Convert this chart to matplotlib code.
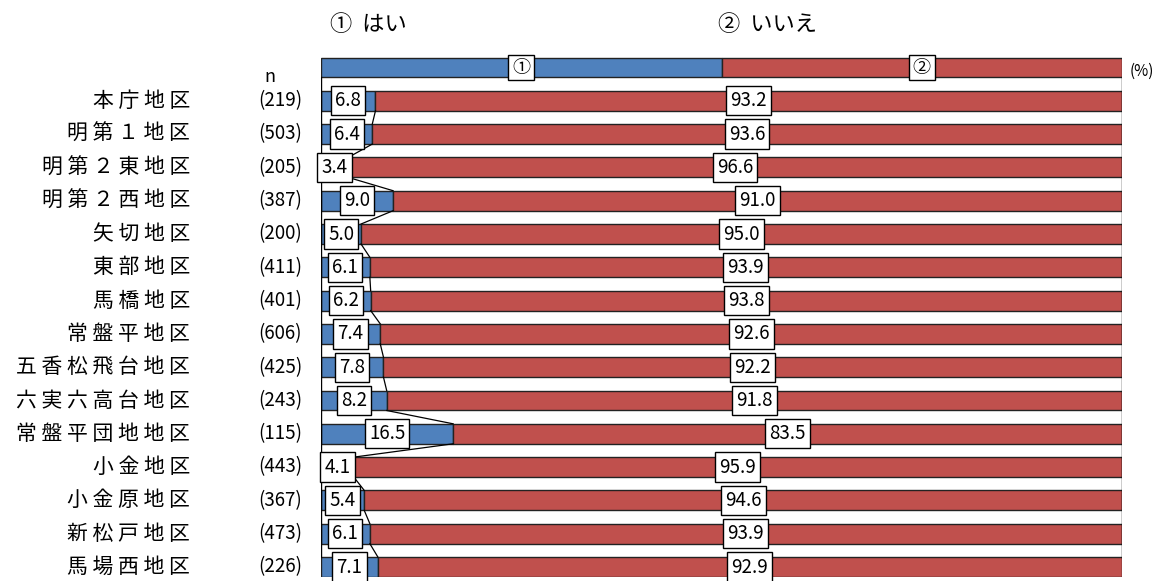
import matplotlib.pyplot as plt

plt.rcParams['font.family'] = ['Noto Sans CJK JP', 'DejaVu Sans']

areas = ["本庁地区", "明第１地区", "明第２東地区", "明第２西地区", "矢切地区",
         "東部地区", "馬橋地区", "常盤平地区", "五香松飛台地区", "六実六高台地区",
         "常盤平団地地区", "小金地区", "小金原地区", "新松戸地区", "馬場西地区"]
n = [219, 503, 205, 387, 200, 411, 401, 606, 425, 243, 115, 443, 367, 473, 226]
yes = [6.8, 6.4, 3.4, 9.0, 5.0, 6.1, 6.2, 7.4, 7.8, 8.2, 16.5, 4.1, 5.4, 6.1, 7.1]
no = [93.2, 93.6, 96.6, 91.0, 95.0, 93.9, 93.8, 92.6, 92.2, 91.8, 83.5, 95.9, 94.6, 93.9, 92.9]
legend_labels = ["①  はい", "②  いいえ"]
legend_marks = ["①", "②"]

blue = "#4F81BD"
red = "#C0504D"
h = 0.6

fig = plt.figure(figsize=(11.62, 5.81), dpi=100)
ax = fig.add_axes([321 / 1162, 1 - 577 / 581, 801 / 1162, (577 - 50.85) / 581])
ax.set_xlim(0, 100)
ax.set_ylim(15.3, -0.5)
ax.axis("off")

box = dict(boxstyle="square,pad=0.22", fc="white", ec="black", lw=1)

# top legend bar
ax.barh(0, 50, height=h, color=blue, edgecolor="#222222", lw=1)
ax.barh(0, 50, left=50, height=h, color=red, edgecolor="#222222", lw=1)
ax.text(25, 0, legend_marks[0], ha="center", va="center", fontsize=13, bbox=box, zorder=5)
ax.text(75, 0, legend_marks[1], ha="center", va="center", fontsize=13, bbox=box, zorder=5)
ax.text(1.1, -1.28, legend_labels[0], ha="left", va="center", fontsize=16, clip_on=False)
ax.text(49.6, -1.28, legend_labels[1], ha="left", va="center", fontsize=16, clip_on=False)
ax.text(101, 0.1, "(%)", ha="left", va="center", fontsize=11, clip_on=False)
ax.text(-6.4, 0.3, "n", ha="center", va="center", fontsize=13, clip_on=False)

rows = list(range(1, len(areas) + 1))
ax.barh(rows, yes, height=h, color=blue, edgecolor="#222222", lw=1)
ax.barh(rows, no, left=yes, height=h, color=red, edgecolor="#222222", lw=1)

# series lines
ax.plot([0, 0], [h / 2, 15 - h / 2], color="black", lw=1, zorder=1)
ax.plot([100, 100], [h / 2, 15 - h / 2], color="black", lw=1, zorder=1)
for i in range(len(areas) - 1):
    ax.plot([yes[i], yes[i + 1]], [rows[i] + h / 2, rows[i + 1] - h / 2],
            color="black", lw=0.9, zorder=1)

for i, y in enumerate(rows):
    ax.text(yes[i] / 2, y, f"{yes[i]:.1f}", ha="center", va="center",
            fontsize=13.5, bbox=box, zorder=5)
    ax.text(yes[i] + no[i] / 2, y, f"{no[i]:.1f}", ha="center", va="center",
            fontsize=13.5, bbox=box, zorder=5)
    ax.text(-16.35, y, " ".join(areas[i]), ha="right", va="center",
            fontsize=15, clip_on=False)
    ax.text(-5.1, y, f"({n[i]})", ha="center", va="center",
            fontsize=13.5, clip_on=False)

fig.savefig("out.png", dpi=100)
